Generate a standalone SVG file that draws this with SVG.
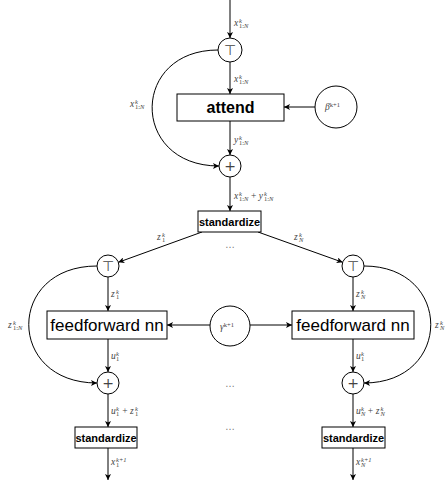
<svg xmlns="http://www.w3.org/2000/svg" width="447" height="481" viewBox="0 0 447 481">
<style>
.ln{fill:none;stroke:#000;stroke-width:1}
.box{fill:#fff;stroke:#000;stroke-width:1}
.cir{fill:#fff;stroke:#000;stroke-width:1}
.lb{font-family:"Liberation Serif",serif;font-style:italic;font-size:9.5px;fill:#444}
.s{font-size:6.5px}
.up{font-style:normal}
.op{font-family:"DejaVu Sans",sans-serif;font-size:14px;fill:#444;text-anchor:middle}
.bt{font-family:"Liberation Sans",sans-serif;font-weight:bold;fill:#000;text-anchor:middle}
.ft{font-family:"Liberation Sans",sans-serif;font-size:17px;fill:#000;text-anchor:middle}
.dots{font-family:"Liberation Sans",sans-serif;font-size:10px;fill:#777;text-anchor:middle}
</style>
<defs>
<marker id="ar" markerUnits="userSpaceOnUse" markerWidth="7" markerHeight="6" refX="6" refY="3" orient="auto">
<path d="M0,0 L6,3 L0,6 L1.5,3 z" fill="#000"/>
</marker>
</defs>
<g id="connectors">
<path class="ln" d="M230,0 L230,38" marker-end="url(#ar)"/>
<path class="ln" d="M230,62 L230,94" marker-end="url(#ar)"/>
<path class="ln" d="M230,121 L230,155" marker-end="url(#ar)"/>
<path class="ln" d="M218,50 C130,50 130,166 219,166" marker-end="url(#ar)"/>
<path class="ln" d="M315,107 L284,107" marker-end="url(#ar)"/>
<path class="ln" d="M230,177 L230,211" marker-end="url(#ar)"/>
<path class="ln" d="M202,232 L118.3,262.3" marker-end="url(#ar)"/>
<path class="ln" d="M258,232 L342.7,262.3" marker-end="url(#ar)"/>
<path class="ln" d="M108,277 L108,311" marker-end="url(#ar)"/>
<path class="ln" d="M353,277 L353,311" marker-end="url(#ar)"/>
<path class="ln" d="M210,325 L167,325" marker-end="url(#ar)"/>
<path class="ln" d="M250,325 L292,325" marker-end="url(#ar)"/>
<path class="ln" d="M108,339 L108,372" marker-end="url(#ar)"/>
<path class="ln" d="M353,339 L353,372" marker-end="url(#ar)"/>
<path class="ln" d="M97,266 C6,266 6,383 97,383" marker-end="url(#ar)"/>
<path class="ln" d="M364,266 C453,266 453,383 364,383" marker-end="url(#ar)"/>
<path class="ln" d="M108,394 L108,427" marker-end="url(#ar)"/>
<path class="ln" d="M353,394 L353,427" marker-end="url(#ar)"/>
<path class="ln" d="M108,448 L108,480" marker-end="url(#ar)"/>
<path class="ln" d="M353,448 L353,480" marker-end="url(#ar)"/>
</g>
<g id="labels">
<text class="lb" x="234" y="26">x<tspan class="s" x="239" dy="-3.5">k</tspan><tspan class="s up" x="239" dy="5.5">1:</tspan><tspan class="s">N</tspan></text>
<text class="lb" x="234" y="82">x<tspan class="s" x="239" dy="-3.5">k</tspan><tspan class="s up" x="239" dy="5.5">1:</tspan><tspan class="s">N</tspan></text>
<text class="lb" x="130" y="107">x<tspan class="s" x="135" dy="-3.5">k</tspan><tspan class="s up" x="135" dy="5.5">1:</tspan><tspan class="s">N</tspan></text>
<text class="lb" x="234" y="143">y<tspan class="s" x="239" dy="-3.5">k</tspan><tspan class="s up" x="239" dy="5.5">1:</tspan><tspan class="s">N</tspan></text>
<text class="lb" x="234" y="199">x<tspan class="s" x="239" dy="-3.5">k</tspan><tspan class="s up" x="239" dy="5.5">1:</tspan><tspan class="s">N</tspan><tspan class="up" dx="2.5" dy="-2">+</tspan><tspan dx="2.5">y</tspan><tspan class="s" x="264" dy="-3.5">k</tspan><tspan class="s up" x="264" dy="5.5">1:</tspan><tspan class="s">N</tspan></text>
<text class="lb" x="157" y="240">z<tspan class="s" x="162" dy="-3.5">k</tspan><tspan class="s up" x="162" dy="5.5">1</tspan></text>
<text class="lb" x="294" y="240">z<tspan class="s" x="299" dy="-3.5">k</tspan><tspan class="s" x="299" dy="5.5">N</tspan></text>
<text class="lb" x="111" y="297">z<tspan class="s" x="116" dy="-3.5">k</tspan><tspan class="s up" x="116" dy="5.5">1</tspan></text>
<text class="lb" x="356" y="297">z<tspan class="s" x="361" dy="-3.5">k</tspan><tspan class="s" x="361" dy="5.5">N</tspan></text>
<text class="lb" x="8" y="328">z<tspan class="s" x="13" dy="-3.5">k</tspan><tspan class="s up" x="13" dy="5.5">1:</tspan><tspan class="s">N</tspan></text>
<text class="lb" x="435" y="328">z<tspan class="s" x="440" dy="-3.5">k</tspan><tspan class="s" x="440" dy="5.5">N</tspan></text>
<text class="lb" x="111" y="359">u<tspan class="s" x="116" dy="-3.5">k</tspan><tspan class="s up" x="116" dy="5.5">1</tspan></text>
<text class="lb" x="356" y="359">u<tspan class="s" x="361" dy="-3.5">k</tspan><tspan class="s up" x="361" dy="5.5">1</tspan></text>
<text class="lb" x="111" y="414">u<tspan class="s" x="116" dy="-3.5">k</tspan><tspan class="s up" x="116" dy="5.5">1</tspan><tspan class="up" dx="3" dy="-2">+</tspan><tspan dx="2.5">z</tspan><tspan class="s" x="135" dy="-3.5">k</tspan><tspan class="s up" x="135" dy="5.5">1</tspan></text>
<text class="lb" x="356" y="414">u<tspan class="s" x="361" dy="-3.5">k</tspan><tspan class="s" x="361" dy="5.5">N</tspan><tspan class="up" dx="2.5" dy="-2">+</tspan><tspan dx="2.5">z</tspan><tspan class="s" x="380.5" dy="-3.5">k</tspan><tspan class="s" x="380.5" dy="5.5">N</tspan></text>
<text class="lb" x="111" y="465">x<tspan class="s" x="116" dy="-3.5">k+1</tspan><tspan class="s up" x="116" dy="5.5">1</tspan></text>
<text class="lb" x="356" y="465">x<tspan class="s" x="361" dy="-3.5">k+1</tspan><tspan class="s" x="361" dy="5.5">N</tspan></text>
<text class="dots" x="230" y="248">…</text>
<text class="dots" x="230" y="387">…</text>
<text class="dots" x="230" y="430">…</text>
</g>
<g id="top-split"><circle class="cir" cx="230" cy="50" r="12"/><text class="op" x="230" y="55">⊤</text></g>
<g id="attend"><rect class="box" x="177" y="94" width="107" height="27"/><text class="bt" x="230.5" y="113" font-size="16">attend</text></g>
<g id="beta"><circle class="cir" cx="336" cy="107" r="21"/><text class="lb" x="325" y="110">β<tspan class="s up" dy="-3.5">k+1</tspan></text></g>
<g id="top-add"><circle class="cir" cx="230" cy="166" r="11"/><text class="op" x="230" y="171">+</text></g>
<g id="standardize-top"><rect class="box" x="198" y="211" width="63" height="21"/><text class="bt" x="229.5" y="225.5" font-size="11">standardize</text></g>
<g id="split-1"><circle class="cir" cx="108" cy="266" r="11"/><text class="op" x="108" y="271">⊤</text></g>
<g id="split-N"><circle class="cir" cx="353" cy="266" r="11"/><text class="op" x="353" y="271">⊤</text></g>
<g id="ffnn-1"><rect class="box" x="47" y="311" width="120" height="28"/><text class="ft" x="107" y="331">feedforward nn</text></g>
<g id="ffnn-N"><rect class="box" x="292" y="311" width="122" height="28"/><text class="ft" x="353" y="331">feedforward nn</text></g>
<g id="gamma"><circle class="cir" cx="230" cy="326" r="20"/><text class="lb" x="220" y="330">γ<tspan class="s up" dy="-3.5">k+1</tspan></text></g>
<g id="add-1"><circle class="cir" cx="108" cy="383" r="11"/><text class="op" x="108" y="388">+</text></g>
<g id="add-N"><circle class="cir" cx="353" cy="383" r="11"/><text class="op" x="353" y="388">+</text></g>
<g id="standardize-1"><rect class="box" x="75" y="427" width="62" height="21"/><text class="bt" x="106" y="441.5" font-size="11">standardize</text></g>
<g id="standardize-N"><rect class="box" x="322" y="427" width="63" height="21"/><text class="bt" x="353.5" y="441.5" font-size="11">standardize</text></g>
</svg>
